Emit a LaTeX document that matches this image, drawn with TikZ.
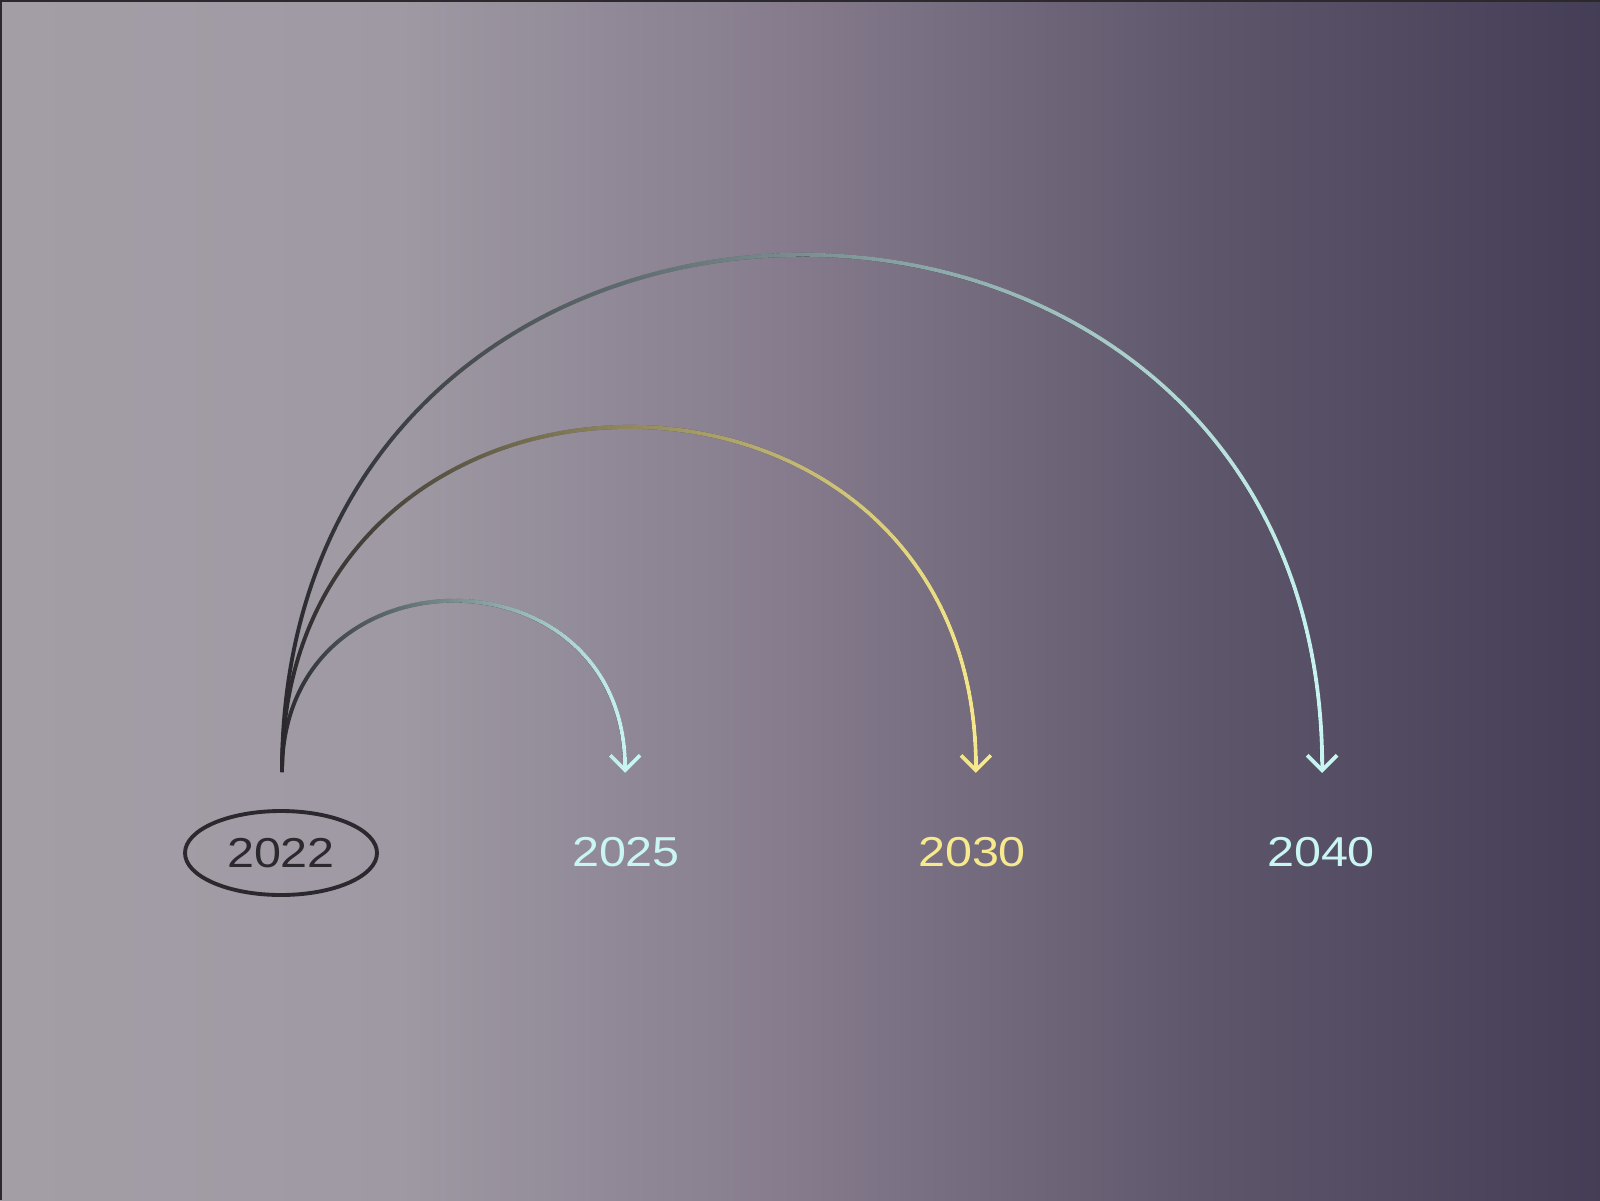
\documentclass[tikz,border=0pt]{standalone}
\usepackage{fontspec}
\setmainfont[FakeStretch=1.16]{Liberation Sans}
\usetikzlibrary{shapes,arrows.meta,fadings}

\definecolor{ink}{HTML}{2B292E}
\definecolor{ice}{HTML}{C9F5F3}
\definecolor{sand}{HTML}{F7E98E}
\pgfdeclarehorizontalshading{bgshade}{100bp}{rgb(0bp)=(0.64,0.62,0.65); rgb(25bp)=(0.64,0.62,0.65); rgb(37.5bp)=(0.62,0.60,0.64); rgb(50bp)=(0.52,0.48,0.55); rgb(62.5bp)=(0.37,0.34,0.42); rgb(75bp)=(0.27,0.24,0.34); rgb(100bp)=(0.27,0.24,0.34)}
\tikzfading[name=fadein, left color=transparent!100, right color=transparent!0]
\tikzset{
  year/.style={font=\fontsize{11.9}{14}\selectfont, inner sep=0pt},
  jump/.style={line width=1.1pt, ->, out=90, in=90, looseness=1.7},
}

\begin{document}
\begin{tikzpicture}[>={Straight Barb[length=1.5mm,width=3mm,line width=1.1pt]}]
	\useasboundingbox (0,0) rectangle (16,12);
	\fill[shading=bgshade] (0,0) rectangle (16,12);
	\draw[ink, line width=1.2pt] (0,0) -- (0,12) -- (16,12);
	% years
	\node[year, ink, draw, ellipse, line width=1.1pt, minimum width=1.92cm, minimum height=0.84cm] (y2022) at (2.81,3.47) {2022};
	\node[year, ice] (y2025) at (6.26,3.48) {2025};
	\node[year, sand] (y2030) at (9.72,3.48) {2030};
	\node[year, ice] (y2040) at (13.21,3.48) {2040};
	% arrow ends
	\coordinate (start) at (2.82,4.28);
	\coordinate (e2025) at (6.25,4.27);
	\coordinate (e2030) at (9.76,4.27);
	\coordinate (e2040) at (13.22,4.27);
	% jumps, dark on the left, fading into colour
	\draw[jump, ink] (start) to (e2025);
	\draw[jump, ice, path fading=fadein] (start) to (e2025);
	\draw[jump, ink] (start) to (e2030);
	\draw[jump, sand, path fading=fadein] (start) to (e2030);
	\draw[jump, ink] (start) to (e2040);
	\draw[jump, ice, path fading=fadein] (start) to (e2040);
\end{tikzpicture}
\end{document}
